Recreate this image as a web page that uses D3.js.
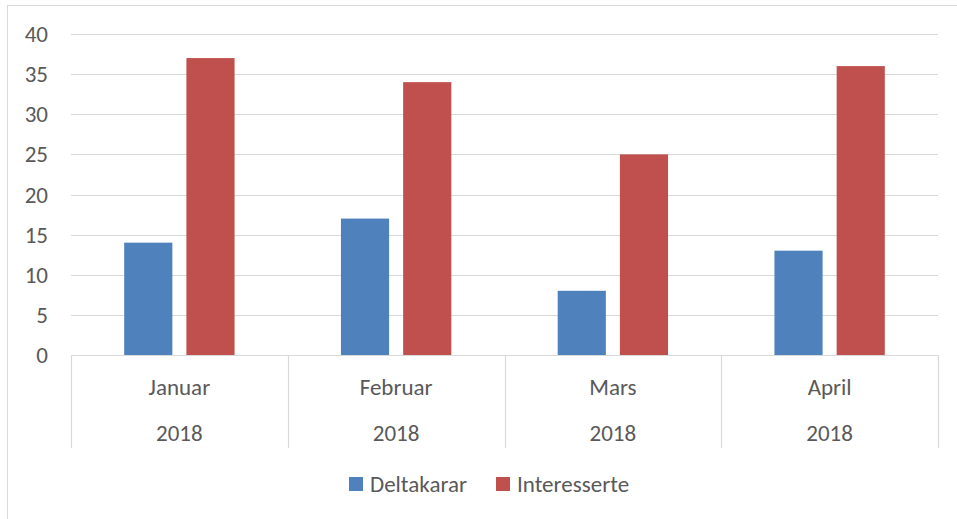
<!DOCTYPE html>
<html><head><meta charset="utf-8">
<script src="https://cdn.jsdelivr.net/npm/d3@7"></script>
<style>body{margin:0;background:#fff}svg{display:block}text{font-family:Carlito,Calibri,"Open Sans",sans-serif;fill:#595959}</style>
</head><body><svg id="c" width="957" height="519"></svg>
<script>
const months = ["Januar","Februar","Mars","April"];
const years = ["2018","2018","2018","2018"];
const seriesNames = ["Deltakarar","Interesserte"];
const deltakarar = [14,17,8,13];
const interesserte = [37,34,25,36];
const yTicks = [0,5,10,15,20,25,30,35,40];
const colors = ["#4f81bd","#c0504d"];

const svg = d3.select("#c");
const fs = 23;
svg.append("rect").attr("x",7.5).attr("y",5.5).attr("width",960).attr("height",530).attr("fill","#fff").attr("stroke","#d9d9d9");

const x0 = d3.scaleBand().domain(months).range([71,938]);
const x1 = d3.scaleBand().domain(seriesNames).range([0,x0.bandwidth()]).paddingInner(14/62).paddingOuter(0.855);
const y = d3.scaleLinear().domain([0,40]).range([355,34]);

// gridlines
svg.append("g").selectAll("line").data(yTicks.filter(d=>d>0)).join("line")
  .attr("x1",71).attr("x2",938).attr("y1",d=>Math.round(y(d))+0.5).attr("y2",d=>Math.round(y(d))+0.5)
  .attr("stroke","#d9d9d9").attr("stroke-width",1.2);

// y labels
svg.append("g").selectAll("text").data(yTicks).join("text")
  .attr("x",48).attr("y",d=>y(d)).attr("dy","0.35em").attr("text-anchor","end")
  .style("font-size",fs+"px").text(d=>d);

// bars
const data = months.map((m,i)=>({m, vals:[deltakarar[i], interesserte[i]]}));
const g = svg.append("g").selectAll("g").data(data).join("g").attr("transform",d=>`translate(${x0(d.m)},0)`);
g.selectAll("rect").data(d=>d.vals.map((v,j)=>({s:seriesNames[j],v,j}))).join("rect")
  .attr("x",d=>x1(d.s)).attr("width",x1.bandwidth())
  .attr("y",d=>y(d.v)).attr("height",d=>y(0)-y(d.v)).attr("fill",d=>colors[d.j]);

// category axis
svg.append("line").attr("x1",71).attr("x2",938).attr("y1",355.5).attr("y2",355.5).attr("stroke","#d9d9d9").attr("stroke-width",1.2);
const bounds = months.map(m=>x0(m)).concat([x0.range()[1]]);
svg.append("g").selectAll("line").data(bounds).join("line")
  .attr("x1",d=>Math.round(d)+0.5).attr("x2",d=>Math.round(d)+0.5).attr("y1",355).attr("y2",448)
  .attr("stroke","#d9d9d9").attr("stroke-width",1.2);
svg.append("g").selectAll("text").data(months).join("text")
  .attr("x",d=>x0(d)+x0.bandwidth()/2).attr("y",387).attr("dy","0.35em").attr("text-anchor","middle")
  .style("font-size",fs+"px").text(d=>d);
svg.append("g").selectAll("text").data(years.map((yv,i)=>({yv,m:months[i]}))).join("text")
  .attr("x",d=>x0(d.m)+x0.bandwidth()/2).attr("y",433).attr("dy","0.35em").attr("text-anchor","middle")
  .style("font-size",fs+"px").text(d=>d.yv);

// legend
const legX = [349,496];
const lg = svg.append("g").selectAll("g").data(seriesNames).join("g").attr("transform",(d,i)=>`translate(${legX[i]},477)`);
lg.append("rect").attr("width",14).attr("height",14).attr("fill",(d,i)=>colors[i]);
lg.append("text").attr("x",21).attr("y",7).attr("dy","0.35em").style("font-size",fs+"px").text(d=>d);
</script></body></html>
